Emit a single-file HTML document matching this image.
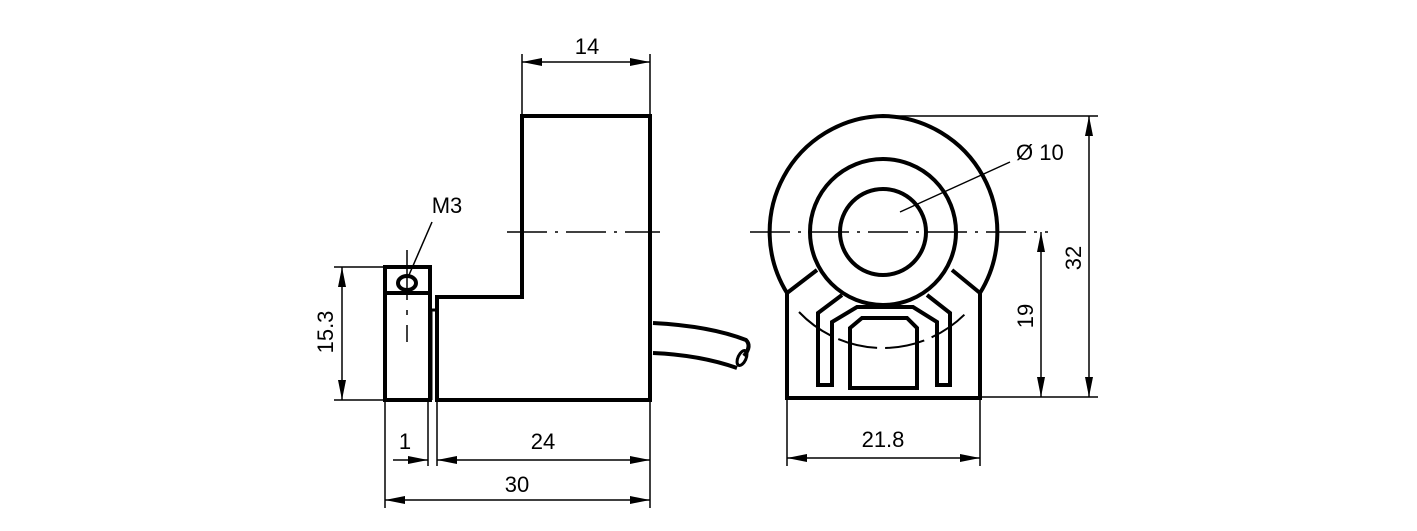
<!DOCTYPE html>
<html><head><style>body{margin:0;background:#fff}svg{display:block}text{font-family:"Liberation Sans",sans-serif;font-size:22px;fill:#000}</style></head><body>
<svg width="1417" height="531" viewBox="0 0 1417 531" xmlns="http://www.w3.org/2000/svg">
<defs><marker id="a" viewBox="0 0 20 8" refX="20" refY="4" markerWidth="20" markerHeight="8" markerUnits="userSpaceOnUse" orient="auto-start-reverse"><path d="M0,0 L20,4 L0,8z" fill="#000"/></marker></defs>
<g fill="none" stroke="#000" stroke-width="4">
<path d="M522,116 H650 V400 H437 V297 H522 Z"/>
<rect x="385" y="267" width="45" height="133"/>
<line x1="385" y1="293" x2="430" y2="293"/>
<ellipse cx="407" cy="283" rx="9" ry="7"/>
<path d="M653,323 Q710,326 746,340 Q752,346 744,356 M653,353 Q700,355 737,368"/>
<ellipse cx="742" cy="358" rx="4" ry="8" transform="rotate(25 742 358)" stroke-width="3"/>
<path d="M787,293 A116,116 0 0 1 883,116 A116,116 0 0 1 980,293"/>
<circle cx="883" cy="232" r="73"/>
<circle cx="883" cy="232" r="43"/>
<path d="M787,293 V398 H980 V293 M787,293 L817,270 M980,293 L952,270"/>
<path d="M842,295 L818,313 V385 H832 V322 L857,307 H913 L937,322 V385 H950 V313 L927,295"/>
<path d="M850,388 V328 L862,318 H907 L917,328 V388 Z"/>
</g>
<g fill="none" stroke="#000">
<path d="M799,312 A116,116 0 0 0 967,312" stroke-width="2" stroke-dasharray="40 8"/>
<line x1="431" y1="310" x2="431" y2="400" stroke-width="3"/>
<line x1="431" y1="310" x2="437" y2="310" stroke-width="3"/>
<line x1="407" y1="250" x2="407" y2="300" stroke-width="1.5"/>
<line x1="407" y1="310" x2="407" y2="315" stroke-width="1.5"/>
<line x1="407" y1="325" x2="407" y2="342" stroke-width="1.5"/>
<path d="M507,232 H660" stroke-width="1.5" stroke-dasharray="40 8 3 8"/>
<path d="M750,232 H1048" stroke-width="1.5" stroke-dasharray="40 8 3 8"/>
<g stroke-width="1.5">
<line x1="432" y1="222" x2="409" y2="275"/>
<line x1="900" y1="212" x2="1010" y2="162"/>
<line x1="522" y1="54" x2="522" y2="116"/><line x1="650" y1="54" x2="650" y2="116"/>
<line x1="522" y1="62" x2="650" y2="62" marker-start="url(#a)" marker-end="url(#a)"/>
<line x1="883" y1="116" x2="1098" y2="116"/><line x1="980" y1="397" x2="1098" y2="397"/>
<line x1="1089" y1="116" x2="1089" y2="397" marker-start="url(#a)" marker-end="url(#a)"/>
<line x1="1041" y1="232" x2="1041" y2="397" marker-start="url(#a)" marker-end="url(#a)"/>
<line x1="787" y1="398" x2="787" y2="466"/><line x1="980" y1="398" x2="980" y2="466"/>
<line x1="787" y1="458" x2="980" y2="458" marker-start="url(#a)" marker-end="url(#a)"/>
<line x1="334" y1="267" x2="385" y2="267"/><line x1="334" y1="400" x2="385" y2="400"/>
<line x1="342" y1="267" x2="342" y2="400" marker-start="url(#a)" marker-end="url(#a)"/>
<line x1="385" y1="400" x2="385" y2="508"/><line x1="650" y1="400" x2="650" y2="508"/>
<line x1="428" y1="400" x2="428" y2="466"/><line x1="437" y1="400" x2="437" y2="466"/>
<line x1="393" y1="460" x2="428" y2="460" marker-end="url(#a)"/>
<line x1="437" y1="460" x2="650" y2="460" marker-start="url(#a)" marker-end="url(#a)"/>
<line x1="385" y1="500" x2="650" y2="500" marker-start="url(#a)" marker-end="url(#a)"/>
</g></g>
<text x="587" y="54" text-anchor="middle">14</text>
<text x="447" y="213" text-anchor="middle">M3</text>
<text x="1016" y="160">Ø 10</text>
<text x="883" y="447" text-anchor="middle">21.8</text>
<text x="405" y="449" text-anchor="middle">1</text>
<text x="543" y="449" text-anchor="middle">24</text>
<text x="517" y="492" text-anchor="middle">30</text>
<text transform="translate(1081,258) rotate(-90)" text-anchor="middle">32</text>
<text transform="translate(1033,316) rotate(-90)" text-anchor="middle">19</text>
<text transform="translate(333,332) rotate(-90)" text-anchor="middle">15.3</text>
</svg></body></html>
